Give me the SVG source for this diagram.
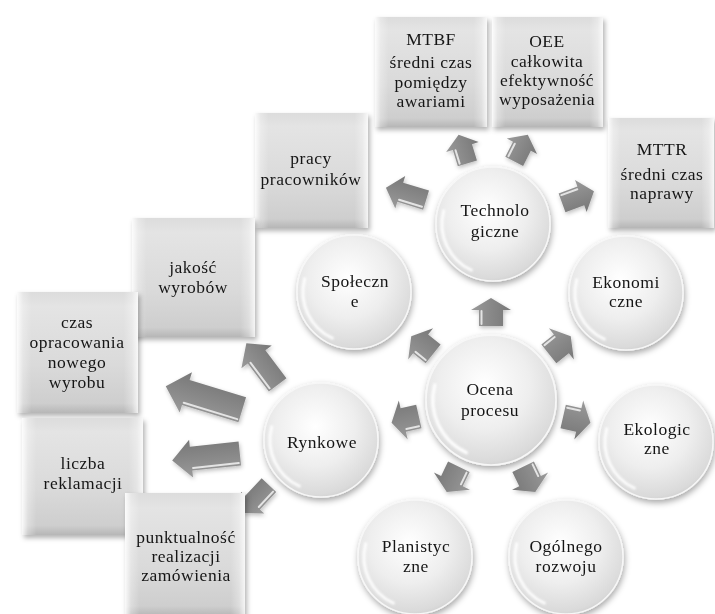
<svg xmlns="http://www.w3.org/2000/svg" xmlns:xlink="http://www.w3.org/1999/xlink" width="715" height="614" viewBox="0 0 715 614">
<defs>
<style>
.t{font-family:"Liberation Serif","DejaVu Serif",serif;font-size:17.5px;letter-spacing:0.5px;fill:#151515;text-anchor:middle}
.box{fill:url(#boxG)}
.boxHi{fill:url(#boxH)}
.arr{fill:url(#arrG)}
.hl{fill:none;stroke:#f2f2f2;stroke-width:2;stroke-linecap:round;opacity:0.85}
</style>
<linearGradient id="boxG" x1="0" y1="0" x2="0" y2="1">
<stop offset="0" stop-color="#dcdcdc"/>
<stop offset="0.12" stop-color="#e4e4e4"/>
<stop offset="0.6" stop-color="#dadada"/>
<stop offset="0.92" stop-color="#cecece"/>
<stop offset="1" stop-color="#b6b6b6"/>
</linearGradient>
<linearGradient id="boxH" x1="0" y1="0" x2="1" y2="0">
<stop offset="0" stop-color="#fff" stop-opacity="0.9"/>
<stop offset="0.05" stop-color="#fff" stop-opacity="0.3"/>
<stop offset="0.12" stop-color="#fff" stop-opacity="0"/>
<stop offset="0.88" stop-color="#fff" stop-opacity="0"/>
<stop offset="0.95" stop-color="#fff" stop-opacity="0.3"/>
<stop offset="1" stop-color="#fff" stop-opacity="0.8"/>
</linearGradient>
<radialGradient id="sphG" cx="0.45" cy="0.38" r="0.7">
<stop offset="0" stop-color="#ffffff"/>
<stop offset="0.5" stop-color="#eeeeee"/>
<stop offset="0.85" stop-color="#dadada"/>
<stop offset="1" stop-color="#c4c4c4"/>
</radialGradient>
<linearGradient id="arrG" x1="0" y1="0" x2="0" y2="1">
<stop offset="0" stop-color="#9a9a9a"/>
<stop offset="0.5" stop-color="#888888"/>
<stop offset="1" stop-color="#777777"/>
</linearGradient>
<filter id="sh" x="-20%" y="-20%" width="140%" height="140%">
<feGaussianBlur in="SourceAlpha" stdDeviation="2.5"/>
<feOffset dx="2" dy="3" result="b"/>
<feFlood flood-color="#000" flood-opacity="0.3"/>
<feComposite in2="b" operator="in"/>
<feMerge><feMergeNode/><feMergeNode in="SourceGraphic"/></feMerge>
</filter>
<filter id="shA" x="-30%" y="-30%" width="160%" height="160%">
<feGaussianBlur in="SourceGraphic" stdDeviation="0.6" result="s"/>
<feGaussianBlur in="SourceAlpha" stdDeviation="2"/>
<feOffset dx="1" dy="2" result="b"/>
<feFlood flood-color="#000" flood-opacity="0.25"/>
<feComposite in2="b" operator="in"/>
<feMerge><feMergeNode/><feMergeNode in="s"/></feMerge>
</filter>
<filter id="shC" x="-25%" y="-25%" width="150%" height="150%">
<feGaussianBlur in="SourceAlpha" stdDeviation="3"/>
<feOffset dx="1" dy="3" result="b"/>
<feFlood flood-color="#000" flood-opacity="0.35"/>
<feComposite in2="b" operator="in"/>
<feMerge><feMergeNode/><feMergeNode in="SourceGraphic"/></feMerge>
</filter>
<filter id="bl" x="-20%" y="-20%" width="140%" height="140%">
<feGaussianBlur stdDeviation="1"/>
</filter>
<g id="sphere">
<circle r="57" fill="url(#sphG)" stroke="#f7f7f7" stroke-width="1.5" filter="url(#shC)"/>
<path d="M-21.6,46.2 A51,51 0 0 1 -49.3,-13.2" fill="none" stroke="#fff" stroke-width="3" stroke-linecap="round" opacity="0.9" filter="url(#bl)"/>
</g>
</defs>
<rect width="715" height="614" fill="#ffffff"/>

<g id="connectors" filter="url(#shA)">
<g transform="translate(491,312) rotate(-90)"><path class="arr" d="M-14,-12H2V-20L14,0L2,20V12H-14Z"/><path class="hl" d="M-12,-9.5H1"/></g>
<g transform="translate(559.8,345.1) rotate(-38.57)"><path class="arr" d="M-14,-12H2V-20L14,0L2,20V12H-14Z"/><path class="hl" d="M-12,-9.5H1"/></g>
<g transform="translate(576.8,419.6) rotate(12.86)"><path class="arr" d="M-14,-12H2V-20L14,0L2,20V12H-14Z"/><path class="hl" d="M-12,-9.5H1"/></g>
<g transform="translate(529.2,479.3) rotate(64.29)"><path class="arr" d="M-14,-12H2V-20L14,0L2,20V12H-14Z"/><path class="hl" d="M-12,-9.5H1"/></g>
<g transform="translate(452.8,479.3) rotate(115.71)"><path class="arr" d="M-14,-12H2V-20L14,0L2,20V12H-14Z"/><path class="hl" d="M-12,-9.5H1"/></g>
<g transform="translate(405.2,419.6) rotate(167.14)"><path class="arr" d="M-14,-12H2V-20L14,0L2,20V12H-14Z"/><path class="hl" d="M-12,-9.5H1"/></g>
<g transform="translate(422.2,345.1) rotate(218.57)"><path class="arr" d="M-14,-12H2V-20L14,0L2,20V12H-14Z"/><path class="hl" d="M-12,-9.5H1"/></g>

<g transform="translate(463,149) rotate(-107)"><path class="arr" d="M-15,-10H2V-17L15,0L2,17V10H-15Z"/><path class="hl" d="M-13,-7.5H1"/></g>
<g transform="translate(521,148) rotate(-63)"><path class="arr" d="M-15,-10H2V-17L15,0L2,17V10H-15Z"/><path class="hl" d="M-13,-7.5H1"/></g>
<g transform="translate(406,194) rotate(-163)"><path class="arr" d="M-21,-10H6V-17L21,0L6,17V10H-21Z"/><path class="hl" d="M-19,-7.5H5"/></g>
<g transform="translate(578,197) rotate(-20)"><path class="arr" d="M-17,-10H3V-17L17,0L3,17V10H-17Z"/><path class="hl" d="M-15,-7.5H2"/></g>

<g transform="translate(262,364) rotate(-127)"><path class="arr" d="M-26,-11H9V-19L26,0L9,19V11H-26Z"/><path class="hl" d="M-24,-8.5H8"/></g>
<g transform="translate(204,398) rotate(-163)"><path class="arr" d="M-40,-13H19V-21L40,0L19,21V13H-40Z"/><path class="hl" d="M-38,-10.5H18"/></g>
<g transform="translate(206,457) rotate(174)"><path class="arr" d="M-34,-12H15V-19L34,0L15,19V12H-34Z"/><path class="hl" d="M-32,-9.5H14"/></g>
<g transform="translate(256,499) rotate(133)"><path class="arr" d="M-19,-10H5V-16L19,0L5,16V10H-19Z"/><path class="hl" d="M-17,-7.5H4"/></g>
</g>

<g id="box-pracy"><g filter="url(#sh)"><rect class="box" x="255" y="113" width="113" height="115"/></g><rect class="boxHi" x="255" y="113" width="113" height="115"/>
<text class="t" x="311" y="164">pracy</text><text class="t" x="311" y="185">pracowników</text></g>

<g id="box-mtbf"><g filter="url(#sh)"><rect class="box" x="375" y="17" width="112" height="110"/></g><rect class="boxHi" x="375" y="17" width="112" height="110"/>
<text class="t" x="431" y="45">MTBF</text><text class="t" x="431" y="68">średni czas</text><text class="t" x="431" y="88">pomiędzy</text><text class="t" x="431" y="107">awariami</text></g>

<g id="box-oee"><g filter="url(#sh)"><rect class="box" x="492" y="17" width="111" height="110"/></g><rect class="boxHi" x="492" y="17" width="111" height="110"/>
<text class="t" x="547" y="47">OEE</text><text class="t" x="547" y="67">całkowita</text><text class="t" x="547" y="86">efektywność</text><text class="t" x="547" y="105">wyposażenia</text></g>

<g id="box-mttr"><g filter="url(#sh)"><rect class="box" x="608" y="118" width="106" height="110"/></g><rect class="boxHi" x="608" y="118" width="106" height="110"/>
<text class="t" x="662" y="155">MTTR</text><text class="t" x="662" y="180">średni czas</text><text class="t" x="662" y="199">naprawy</text></g>

<g id="box-jakosc"><g filter="url(#sh)"><rect class="box" x="132" y="218" width="123" height="119"/></g><rect class="boxHi" x="132" y="218" width="123" height="119"/>
<text class="t" x="193" y="273">jakość</text><text class="t" x="193" y="293">wyrobów</text></g>

<g id="box-czas"><g filter="url(#sh)"><rect class="box" x="17" y="292" width="121" height="121"/></g><rect class="boxHi" x="17" y="292" width="121" height="121"/>
<text class="t" x="77" y="328">czas</text><text class="t" x="77" y="348">opracowania</text><text class="t" x="77" y="368">nowego</text><text class="t" x="77" y="388">wyrobu</text></g>

<g id="box-liczba"><g filter="url(#sh)"><rect class="box" x="22" y="418" width="121" height="117"/></g><rect class="boxHi" x="22" y="418" width="121" height="117"/>
<text class="t" x="83" y="469">liczba</text><text class="t" x="83" y="489">reklamacji</text></g>

<g id="box-punkt"><g filter="url(#sh)"><rect class="box" x="125" y="493" width="120" height="123"/></g><rect class="boxHi" x="125" y="493" width="120" height="123"/>
<text class="t" x="186" y="543">punktualność</text><text class="t" x="186" y="562">realizacji</text><text class="t" x="186" y="581">zamówienia</text></g>

<g id="node-technologiczne"><use xlink:href="#sphere" transform="translate(493,224)"/>
<text class="t" x="495" y="216">Technolo</text><text class="t" x="495" y="237">giczne</text></g>

<g id="node-ekonomiczne"><use xlink:href="#sphere" transform="translate(626,293)"/>
<text class="t" x="626" y="288">Ekonomi</text><text class="t" x="626" y="307">czne</text></g>

<g id="node-ekologiczne"><use xlink:href="#sphere" transform="translate(656,442)"/>
<text class="t" x="657" y="435">Ekologic</text><text class="t" x="657" y="454">zne</text></g>

<g id="node-ogolnego"><use xlink:href="#sphere" transform="translate(566,557)"/>
<text class="t" x="566" y="552">Ogólnego</text><text class="t" x="566" y="572">rozwoju</text></g>

<g id="node-planistyczne"><use xlink:href="#sphere" transform="translate(415,557)"/>
<text class="t" x="416" y="552">Planistyc</text><text class="t" x="416" y="572">zne</text></g>

<g id="node-rynkowe"><use xlink:href="#sphere" transform="translate(321,440)"/>
<text class="t" x="322" y="448">Rynkowe</text></g>

<g id="node-spoleczne"><use xlink:href="#sphere" transform="translate(354,292)"/>
<text class="t" x="355" y="287">Społeczn</text><text class="t" x="355" y="307">e</text></g>

<g id="node-ocena"><use xlink:href="#sphere" transform="translate(491,400) scale(1.14)"/>
<text class="t" x="490" y="395">Ocena</text><text class="t" x="490" y="416">procesu</text></g>
</svg>
